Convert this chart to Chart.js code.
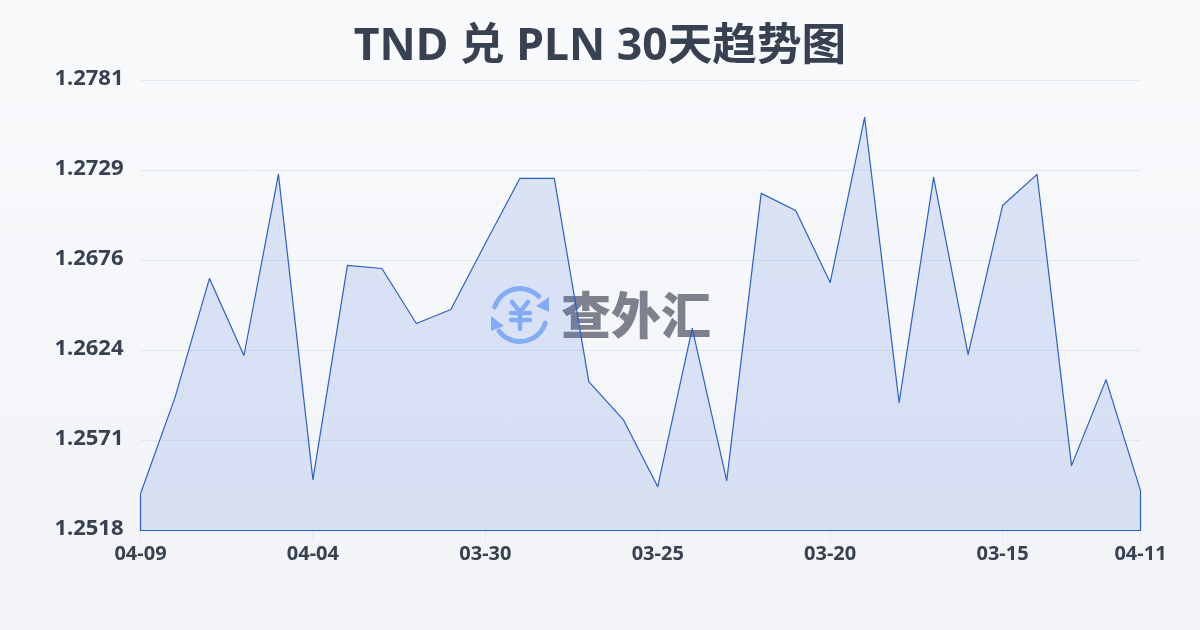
<!DOCTYPE html>
<html><head><meta charset="utf-8">
<style>html,body{margin:0;padding:0;width:1200px;height:630px;overflow:hidden;background:linear-gradient(180deg,#f8fafc 0%,#f1f3f6 100%)}canvas{display:block}</style>
<script src="https://cdn.jsdelivr.net/npm/chart.js@4/dist/chart.umd.min.js"></script>
</head><body><canvas id="c" width="1200" height="630"></canvas>
<script>
const titleText = 'TND 兑 PLN 30天趋势图';
const watermarkText = '查外汇';
const categories = ['04-09','04-08','04-07','04-06','04-05','04-04','04-03','04-02','04-01','03-31','03-30','03-29','03-28','03-27','03-26','03-25','03-24','03-23','03-22','03-21','03-20','03-19','03-18','03-17','03-16','03-15','03-14','03-13','03-12','04-11'];
const rates = [1.25399,1.25960,1.26656,1.26206,1.27264,1.25481,1.26732,1.26714,1.26393,1.26475,1.26860,1.27240,1.27240,1.26054,1.25832,1.25440,1.26364,1.25475,1.27153,1.27053,1.26632,1.27597,1.25931,1.27246,1.26212,1.27082,1.27264,1.25563,1.26065,1.25417];
const yMin = 1.25184, yMax = 1.27812;
const FONT = '"Noto Sans","Noto Sans CJK SC",sans-serif';
const INK = '#374151', LINE = '#2b5fc9';

const outline = {
  id:'outline',
  afterDatasetsDraw(ch){
    const p = ch.getDatasetMeta(0).data, c = ch.ctx, b = ch.scales.y.getPixelForValue(yMin);
    c.save(); c.strokeStyle = LINE; c.lineWidth = 1.2; c.beginPath();
    c.moveTo(p[0].x,p[0].y); c.lineTo(p[0].x,b); c.lineTo(p[p.length-1].x,b); c.lineTo(p[p.length-1].x,p[p.length-1].y);
    c.stroke(); c.restore();
  }
};
const watermark = {
  id:'watermark',
  beforeDatasetsDraw(ch){
    const c = ch.ctx, cx = 520, cy = 315, r = 26.5;
    c.save();
    c.strokeStyle = '#8fb8f8'; c.fillStyle = '#8fb8f8'; c.lineWidth = 5; c.lineCap = 'round';
    c.beginPath(); c.arc(cx,cy,r,Math.PI*1.1,Math.PI*1.75); c.stroke();
    c.beginPath(); c.arc(cx,cy,r,Math.PI*0.1,Math.PI*0.79); c.stroke();
    c.beginPath(); c.moveTo(549,297); c.lineTo(549,312); c.lineTo(536,306); c.closePath(); c.fill();
    c.beginPath(); c.moveTo(491,316); c.lineTo(491,331); c.lineTo(504,326); c.closePath(); c.fill();
    c.lineWidth = 4.5;
    c.beginPath(); c.moveTo(512,302); c.lineTo(520,312); c.lineTo(528,302); c.moveTo(520,312); c.lineTo(520,329); c.moveTo(511,313); c.lineTo(530,313); c.moveTo(511,320); c.lineTo(530,320); c.stroke();
    c.fillStyle = 'rgba(75,80,95,0.7)'; c.font = '900 50px "Noto Sans CJK SC"'; c.textBaseline='middle'; c.textAlign='left';
    c.fillText(watermarkText,561,315);
    c.restore();
  }
};
new Chart(document.getElementById('c'),{
  type:'line',
  data:{labels:categories,datasets:[{data:rates,borderColor:LINE,borderWidth:1.2,borderJoinStyle:'round',backgroundColor:'rgba(60,110,220,0.15)',fill:'start',tension:0,pointRadius:0}]},
  plugins:[watermark,outline],
  options:{
    responsive:false,animation:false,
    plugins:{legend:{display:false},tooltip:{enabled:false},
      title:{display:true,text:titleText,color:INK,font:{family:FONT,size:44.6,weight:'bold',lineHeight:1.2},padding:{top:21,bottom:6}}},
    scales:{
      x:{offset:false,
        afterFit(s){s.height=99.5;s.paddingRight=59.5;s.paddingLeft=0},
        grid:{drawOnChartArea:false,drawTicks:true,tickLength:10,color:'#e2e8f0'},border:{display:false},
        ticks:{autoSkip:false,maxRotation:0,padding:2,color:INK,font:{family:FONT,size:20,weight:'bold'},
          callback(v,i){return (i%5===0||i===categories.length-1)?categories[i]:null}}},
      y:{min:yMin,max:yMax,
        afterFit(s){s.width=140.5},
        afterBuildTicks(s){const n=5,t=[];for(let i=0;i<=n;i++)t.push({value:yMin+(yMax-yMin)*i/n});s.ticks=t},
        grid:{drawTicks:false,color:'#e2e8f0'},border:{display:false},
        ticks:{padding:17,labelOffset:-1.5,crossAlign:'center',color:INK,font:{family:FONT,size:22,weight:'bold'},callback(v){return Number(v).toFixed(4)}}}
    }
  }
});
</script></body></html>
